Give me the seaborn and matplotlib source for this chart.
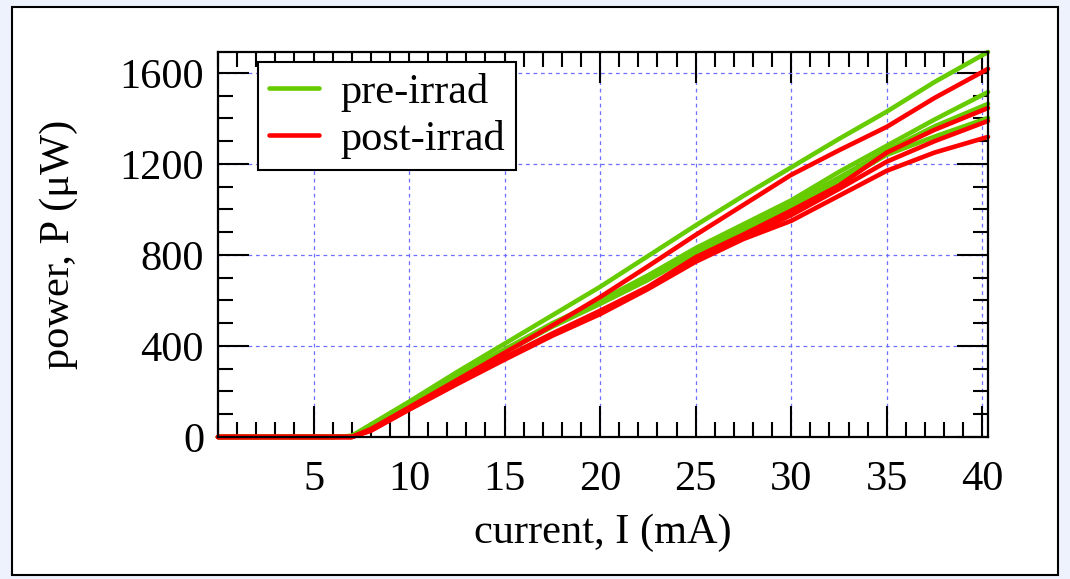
import numpy as np
import pandas as pd
import matplotlib
matplotlib.use('Agg')
import matplotlib.pyplot as plt
import seaborn as sns
from matplotlib.patches import Rectangle
from matplotlib.ticker import MultipleLocator

# ── data ──────────────────────────────────────────────────────
current = [0, 6, 7, 8, 10, 12.5, 15, 17.5, 20, 22.5, 25, 27.5, 30, 32.5, 35, 37.5, 40.3]

pre_1 = [0, 0, 5, 55, 155, 285, 410, 535, 660, 795, 930, 1060, 1185, 1310, 1430, 1560, 1692]
pre_2 = [0, 0, 4, 50, 150, 270, 385, 500, 600, 710, 830, 935, 1040, 1165, 1280, 1395, 1516]
pre_3 = [0, 0, 3, 48, 145, 265, 378, 490, 590, 700, 815, 920, 1025, 1140, 1260, 1365, 1464]
pre_4 = [0, 0, 3, 46, 142, 262, 372, 485, 585, 690, 805, 910, 1005, 1120, 1240, 1320, 1402]

post_1 = [0, 0, 0, 35, 130, 250, 370, 490, 615, 750, 888, 1020, 1152, 1260, 1363, 1490, 1618]
post_2 = [0, 0, 0, 30, 125, 240, 350, 455, 555, 660, 790, 890, 995, 1105, 1250, 1350, 1446]
post_3 = [0, 0, 0, 28, 122, 235, 345, 450, 548, 655, 780, 875, 975, 1090, 1210, 1300, 1389]
post_4 = [0, 0, 0, 28, 120, 232, 340, 445, 540, 650, 770, 870, 950, 1060, 1170, 1250, 1319]

groups = ['pre-irrad', 'post-irrad']
curves = {'pre-irrad': [pre_1, pre_2, pre_3, pre_4],
          'post-irrad': [post_1, post_2, post_3, post_4]}

rows = []
for g in groups:
    for k, vals in enumerate(curves[g]):
        for c, p in zip(current, vals):
            rows.append((c, p, g, f'{g}-{k}'))
df = pd.DataFrame(rows, columns=['current', 'power', 'group', 'run'])

# ── style ─────────────────────────────────────────────────────
sns.set_theme(style='white')
plt.rcParams['font.family'] = ['Liberation Serif', 'DejaVu Serif']
plt.rcParams.update({'text.color': 'black', 'axes.labelcolor': 'black',
                     'xtick.color': 'black', 'ytick.color': 'black'})
FS = 30.5

fig = plt.figure(figsize=(10.7, 5.79), dpi=100)
fig.patch.set_facecolor('#eef2fc')
fig.patches.append(Rectangle((12 / 1070, 1 - 575 / 579), (1058 - 12) / 1070, (575 - 7) / 579,
                             transform=fig.transFigure, facecolor='white',
                             edgecolor='black', lw=1.5, zorder=-10))

ax = fig.add_axes([218 / 1070, 1 - 437 / 579, (988 - 218) / 1070, (437 - 52) / 579])
ax.set_facecolor('white')

sns.lineplot(data=df, x='current', y='power', hue='group', units='run',
             estimator=None, palette={'pre-irrad': '#66cc00', 'post-irrad': '#ff0000'},
             hue_order=groups, lw=3.3, ax=ax, clip_on=False)

ax.set_xlim(0, 40.3)
ax.set_ylim(0, 1692)
ax.xaxis.set_major_locator(MultipleLocator(5))
ax.xaxis.set_minor_locator(MultipleLocator(1))
ax.yaxis.set_major_locator(MultipleLocator(400))
ax.yaxis.set_minor_locator(MultipleLocator(100))
ax.set_xticks([5, 10, 15, 20, 25, 30, 35, 40])

ax.grid(True, which='major', color='#6f6fff', linestyle=(0, (3, 3)), lw=0.9)
for s in ax.spines.values():
    s.set_visible(True)
    s.set_color('black')
    s.set_linewidth(1.6)

ax.tick_params(which='both', direction='in', top=True, right=True,
               bottom=True, left=True,
               color='black', width=1.5, labelsize=FS, labelcolor='black')
ax.tick_params(which='major', length=22)
ax.tick_params(which='minor', length=11)
ax.tick_params(axis='x', which='major', pad=17)
ax.tick_params(axis='y', which='major', pad=10)

ax.set_xlabel('current, I (mA)', fontsize=FS, labelpad=10)
ax.set_ylabel('power, P (μW)', fontsize=FS, labelpad=30)

sns.move_legend(ax, 'upper left', title=None, fontsize=FS, frameon=True,
                fancybox=False, edgecolor='black', framealpha=1,
                handlelength=1.2, handletextpad=0.5, borderpad=0.25,
                labelspacing=0.2, borderaxespad=0,
                bbox_to_anchor=(0.052, 0.974))
leg = ax.get_legend()
leg.get_frame().set_linewidth(1.5)
for h in leg.get_lines():
    h.set_linewidth(3.3)

fig.savefig('out.png', dpi=100, facecolor=fig.get_facecolor())
